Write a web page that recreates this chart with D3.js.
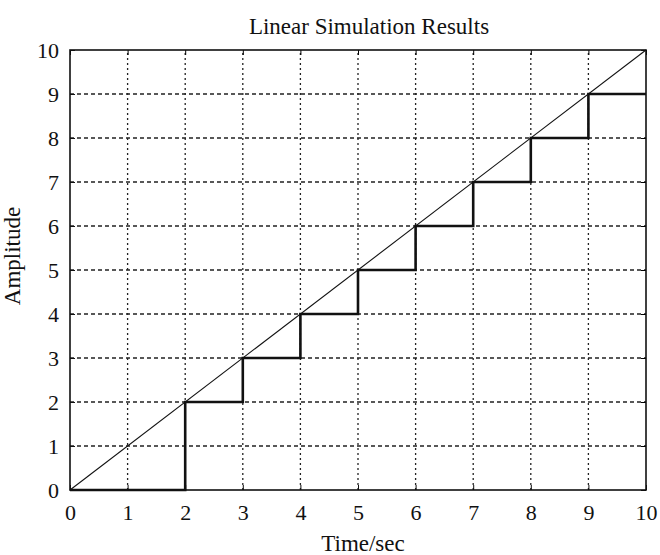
<!DOCTYPE html>
<html>
<head>
<meta charset="utf-8">
<script src="https://cdn.jsdelivr.net/npm/d3@7"></script>
<style>
  body { margin: 0; background: #fff; }
  text { font-family: "Liberation Serif", "DejaVu Serif", serif; fill: #111; }
</style>
</head>
<body>
<div id="chart"></div>
<script>
// ramp input and the staircase response
const rampTimes = [0, 10];
const rampValues = [0, 10];
const stepTimes = [0, 2, 3, 4, 5, 6, 7, 8, 9, 10];
const stepValues = [0, 2, 3, 4, 5, 6, 7, 8, 9, 9];
const xTicks = [0, 1, 2, 3, 4, 5, 6, 7, 8, 9, 10];
const yTicks = [0, 1, 2, 3, 4, 5, 6, 7, 8, 9, 10];

function drawChart() {
  const width = 660;
  const height = 555;
  const margin = { top: 50, right: 14, bottom: 65, left: 70 };

  const svg = d3.select("#chart")
    .append("svg")
    .attr("width", width)
    .attr("height", height);

  const x = d3.scaleLinear()
    .domain([0, 10])
    .range([margin.left, width - margin.right]);

  const y = d3.scaleLinear()
    .domain([0, 10])
    .range([height - margin.bottom, margin.top]);

  // grid
  svg.append("g")
    .selectAll("line")
    .data(xTicks.slice(1, -1))
    .join("line")
    .attr("x1", d => x(d)).attr("x2", d => x(d))
    .attr("y1", y(0)).attr("y2", y(10))
    .attr("stroke", "#222")
    .attr("stroke-width", 1.3)
    .attr("stroke-dasharray", "2,3");

  svg.append("g")
    .selectAll("line")
    .data(yTicks.slice(1, -1))
    .join("line")
    .attr("x1", x(0)).attr("x2", x(10))
    .attr("y1", d => y(d)).attr("y2", d => y(d))
    .attr("stroke", "#222")
    .attr("stroke-width", 1.3)
    .attr("stroke-dasharray", "4,3");

  // axes
  const xAxis = svg.append("g")
    .attr("transform", `translate(0,${y(0)})`)
    .call(d3.axisBottom(x).tickValues(xTicks).tickSizeInner(-5).tickSizeOuter(0).tickPadding(14));
  const yAxis = svg.append("g")
    .attr("transform", `translate(${x(0)},0)`)
    .call(d3.axisLeft(y).tickValues(yTicks).tickSizeInner(-5).tickSizeOuter(0).tickPadding(11));

  [xAxis, yAxis].forEach(g => {
    g.select(".domain").remove();
    g.selectAll("text")
      .style("font-family", "'Liberation Serif', serif")
      .style("font-size", "22px")
      .attr("fill", "#111");
    g.selectAll("line").attr("stroke", "#111");
  });

  // top and right ticks
  svg.append("g")
    .attr("transform", `translate(0,${y(10)})`)
    .call(d3.axisTop(x).tickValues(xTicks).tickSizeInner(-5).tickSizeOuter(0).tickFormat(""))
    .call(g => g.select(".domain").remove());
  svg.append("g")
    .attr("transform", `translate(${x(10)},0)`)
    .call(d3.axisRight(y).tickValues(yTicks).tickSizeInner(-5).tickSizeOuter(0).tickFormat(""))
    .call(g => g.select(".domain").remove());

  // frame
  svg.append("rect")
    .attr("x", x(0))
    .attr("y", y(10))
    .attr("width", x(10) - x(0))
    .attr("height", y(0) - y(10))
    .attr("fill", "none")
    .attr("stroke", "#111")
    .attr("stroke-width", 1.6);

  const line = d3.line()
    .x(d => x(d[0]))
    .y(d => y(d[1]));

  // ramp
  svg.append("path")
    .datum(d3.zip(rampTimes, rampValues))
    .attr("fill", "none")
    .attr("stroke", "#111")
    .attr("stroke-width", 1.1)
    .attr("d", line);

  // staircase response
  svg.append("path")
    .datum(d3.zip(stepTimes, stepValues))
    .attr("fill", "none")
    .attr("stroke", "#111")
    .attr("stroke-width", 2.6)
    .attr("d", line.curve(d3.curveStepAfter));

  // title and labels
  svg.append("text")
    .attr("x", 369)
    .attr("y", 34)
    .attr("text-anchor", "middle")
    .style("font-size", "23px")
    .text("Linear Simulation Results");

  svg.append("text")
    .attr("x", 363)
    .attr("y", 551)
    .attr("text-anchor", "middle")
    .style("font-size", "23px")
    .text("Time/sec");

  svg.append("text")
    .attr("transform", "rotate(-90)")
    .attr("x", -256)
    .attr("y", 20)
    .attr("text-anchor", "middle")
    .style("font-size", "23px")
    .text("Amplitude");
}

window.onload = drawChart;
</script>
</body>
</html>
